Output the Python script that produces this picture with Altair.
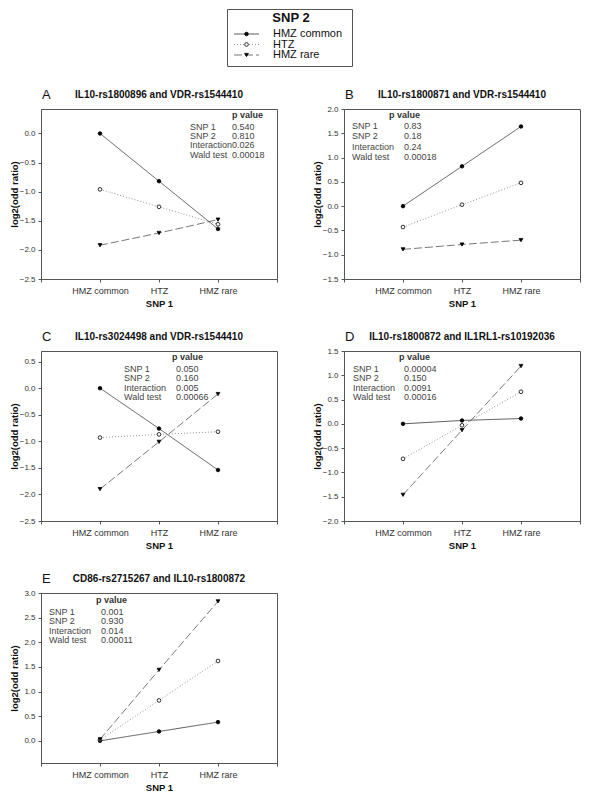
import altair as alt
import pandas as pd

FONT = "Liberation Sans"

# ---------------- data ----------------
series = ["HMZ common", "HTZ", "HMZ rare"]          # SNP 2 genotype (legend)
snp1_labels = ["HMZ common", "HTZ", "HMZ rare"]     # SNP 1 genotype (x axis)
snp1_pos = [1, 2, 3]
x_ticks = [0, 1, 2, 3, 4]

letters = ["A", "B", "C", "D", "E"]
titles = [
    "IL10-rs1800896 and VDR-rs1544410",
    "IL10-rs1800871 and VDR-rs1544410",
    "IL10-rs3024498 and VDR-rs1544410",
    "IL10-rs1800872 and IL1RL1-rs10192036",
    "CD86-rs2715267 and IL10-rs1800872",
]

# log2(odd ratio) per SNP 2 series, at SNP 1 = HMZ common, HTZ, HMZ rare
A_common = [0.00, -0.82, -1.64]
A_htz = [-0.96, -1.26, -1.56]
A_rare = [-1.92, -1.71, -1.48]

B_common = [0.00, 0.82, 1.64]
B_htz = [-0.43, 0.03, 0.48]
B_rare = [-0.89, -0.79, -0.70]

C_common = [0.00, -0.76, -1.54]
C_htz = [-0.93, -0.87, -0.82]
C_rare = [-1.90, -1.01, -0.11]

D_common = [0.00, 0.07, 0.11]
D_htz = [-0.72, -0.03, 0.66]
D_rare = [-1.46, -0.13, 1.19]

E_common = [0.00, 0.19, 0.38]
E_htz = [0.02, 0.82, 1.62]
E_rare = [0.03, 1.44, 2.83]

y_domains = [[-2.5, 0.42], [-1.5, 2.0], [-2.5, 0.7], [-2.0, 1.5], [-0.45, 3.0]]
y_ticks = [
    [-2.5, -2.0, -1.5, -1.0, -0.5, 0.0],
    [-1.5, -1.0, -0.5, 0.0, 0.5, 1.0, 1.5, 2.0],
    [-2.5, -2.0, -1.5, -1.0, -0.5, 0.0, 0.5],
    [-2.0, -1.5, -1.0, -0.5, 0.0, 0.5, 1.0, 1.5],
    [0.0, 0.5, 1.0, 1.5, 2.0, 2.5, 3.0],
]

p_header = "p value"
p_labels = ["SNP 1", "SNP 2", "Interaction", "Wald test"]
A_p = ["0.540", "0.810", "0.026", "0.00018"]
B_p = ["0.83", "0.18", "0.24", "0.00018"]
C_p = ["0.050", "0.160", "0.005", "0.00066"]
D_p = ["0.00004", "0.150", "0.0091", "0.00016"]
E_p = ["0.001", "0.930", "0.014", "0.00011"]

# ---------------- styling / layout ----------------
W, H = 236, 170
# p-value table placement (header x, header y, label x, value x, first baseline, line height)
p_layout = [
    (191, 6, 149, 191, 21, 9.2),
    (45, 6, 8, 60, 19.5, 10.5),
    (131, 6, 83, 135, 21, 9.4),
    (55, 6, 9, 60, 21, 9.4),
    (55, 7, 8, 60, 22, 9.4),
]

dash_scale = alt.Scale(domain=series, range=[[1, 0], [1, 2], [8, 3]])
color_scale = alt.Scale(domain=series, range=["#333333", "#777777", "#555555"])
shape_scale = alt.Scale(domain=series, range=["circle", "circle", "triangle-down"])
fill_scale = alt.Scale(domain=series, range=["#000000", "#ffffff", "#000000"])
size_scale = alt.Scale(domain=series, range=[13, 14, 22])

label_expr = " : ".join(
    f"datum.value == {p} ? '{l}'" for p, l in zip(snp1_pos, snp1_labels)
) + " : ''"


def panel(i, vals, pv):
    rows = []
    for s, v in zip(series, vals):
        for lab, pos, y in zip(snp1_labels, snp1_pos, v):
            rows.append({"series": s, "snp1": lab, "pos": pos, "val": y})
    df = pd.DataFrame(rows)

    x = alt.X(
        "pos:Q",
        scale=alt.Scale(domain=[0, 4], nice=False, zero=False),
        axis=alt.Axis(
            values=x_ticks, labelExpr=label_expr, title="SNP 1",
            labelFontSize=9, labelPadding=4, titlePadding=3,
        ),
    )
    y = alt.Y(
        "val:Q",
        scale=alt.Scale(domain=y_domains[i], nice=False, zero=False),
        axis=alt.Axis(
            values=y_ticks[i], format=".1f", title="log2(odd ratio)",
            labelFontSize=8, labelPadding=3, minExtent=20, maxExtent=20,
            titlePadding=2,
        ),
    )

    lines = alt.Chart(df).mark_line(strokeWidth=0.8).encode(
        x=x, y=y,
        color=alt.Color("series:N", scale=color_scale, legend=None),
        strokeDash=alt.StrokeDash("series:N", scale=dash_scale, legend=None),
        order="pos:Q",
    )
    pts = alt.Chart(df).mark_point(filled=True, opacity=1, stroke="#000000", strokeWidth=0.8).encode(
        x=x, y=y,
        shape=alt.Shape("series:N", scale=shape_scale, legend=None),
        fill=alt.Fill("series:N", scale=fill_scale, legend=None),
        size=alt.Size("series:O", scale=size_scale, legend=None),
    )

    hx, hy, lx, vx, by, lh = p_layout[i]
    head = alt.Chart(pd.DataFrame({"t": [p_header]})).mark_text(
        align="left", baseline="middle", fontSize=9, fontWeight="bold", color="#333333", font=FONT
    ).encode(text="t:N", x=alt.value(hx), y=alt.value(hy))
    labs = alt.Chart(pd.DataFrame({"t": ["\n".join(p_labels)]})).mark_text(
        align="left", baseline="alphabetic", fontSize=9, color="#444444", font=FONT,
        lineBreak="\n", lineHeight=lh,
    ).encode(text="t:N", x=alt.value(lx), y=alt.value(by))
    vals_t = alt.Chart(pd.DataFrame({"t": ["\n".join(pv)]})).mark_text(
        align="left", baseline="alphabetic", fontSize=9, color="#444444", font=FONT,
        lineBreak="\n", lineHeight=lh,
    ).encode(text="t:N", x=alt.value(vx), y=alt.value(by))

    letter = alt.Chart(pd.DataFrame({"t": [letters[i]]})).mark_text(
        align="left", baseline="middle", fontSize=13, color="#111111", font=FONT
    ).encode(text="t:N", x=alt.value(1), y=alt.value(-14))
    title = alt.Chart(pd.DataFrame({"t": [titles[i]]})).mark_text(
        align="center", baseline="middle", fontSize=10, fontWeight="bold", color="#111111", font=FONT
    ).encode(text="t:N", x=alt.value(W / 2), y=alt.value(-14))

    return alt.layer(lines, pts, head, labs, vals_t, letter, title).properties(width=W, height=H)


panels = [
    panel(0, [A_common, A_htz, A_rare], A_p),
    panel(1, [B_common, B_htz, B_rare], B_p),
    panel(2, [C_common, C_htz, C_rare], C_p),
    panel(3, [D_common, D_htz, D_rare], D_p),
    panel(4, [E_common, E_htz, E_rare], E_p),
]

grid = alt.concat(*panels, columns=2, spacing={"row": 72, "column": 67}, bounds="flush")

# ---------------- legend (SNP 2) ----------------
leg_df = pd.DataFrame({"series": series})
ly = alt.Y("series:N", sort=series,
           scale=alt.Scale(type="point", domain=series, range=[25, 46], padding=0), axis=None)
leg_rule = alt.Chart(leg_df).mark_rule(strokeWidth=0.8).encode(
    y=ly, x=alt.value(7), x2=alt.value(32),
    color=alt.Color("series:N", scale=color_scale, legend=None),
    strokeDash=alt.StrokeDash("series:N", scale=dash_scale, legend=None),
)
leg_pts = alt.Chart(leg_df).mark_point(filled=True, opacity=1, stroke="#000000", strokeWidth=0.8).encode(
    y=ly, x=alt.value(19.5),
    shape=alt.Shape("series:N", scale=shape_scale, legend=None),
    fill=alt.Fill("series:N", scale=fill_scale, legend=None),
    size=alt.Size("series:O", scale=size_scale, legend=None),
)
leg_txt = alt.Chart(leg_df).mark_text(
    align="left", baseline="middle", fontSize=11, color="#111111", font=FONT
).encode(y=ly, x=alt.value(46), text="series:N")
leg_title = alt.Chart(pd.DataFrame({"t": ["SNP 2"]})).mark_text(
    align="center", baseline="middle", fontSize=13, fontWeight="bold", color="#111111", font=FONT
).encode(text="t:N", x=alt.value(64), y=alt.value(9))
legend = alt.layer(leg_rule, leg_pts, leg_txt, leg_title).properties(width=125, height=57)

# invisible spacer that pushes the legend box to the right
spacer = (
    alt.Chart(pd.DataFrame({"a": [0]}))
    .mark_point(opacity=0)
    .encode(x=alt.value(0), y=alt.value(0))
    .transform_filter("false")
    .properties(width=184, height=57, view=alt.ViewBackground(stroke="transparent"))
)
legend_row = alt.hconcat(spacer, legend, spacing=0)

chart = (
    alt.vconcat(legend_row, grid, spacing=21)
    .properties(padding=0)
    .configure(font=FONT)
    .configure_view(stroke="#555555", strokeWidth=1)
    .configure_axis(
        grid=False, tickSize=3, tickColor="#555555", domainColor="#555555",
        labelColor="#333333", labelFont=FONT, titleFont=FONT,
        titleFontSize=9.5, titleFontWeight="bold", titleColor="#111111",
    )
)

chart.save("out.html", embed_options={"renderer": "svg", "actions": False})
